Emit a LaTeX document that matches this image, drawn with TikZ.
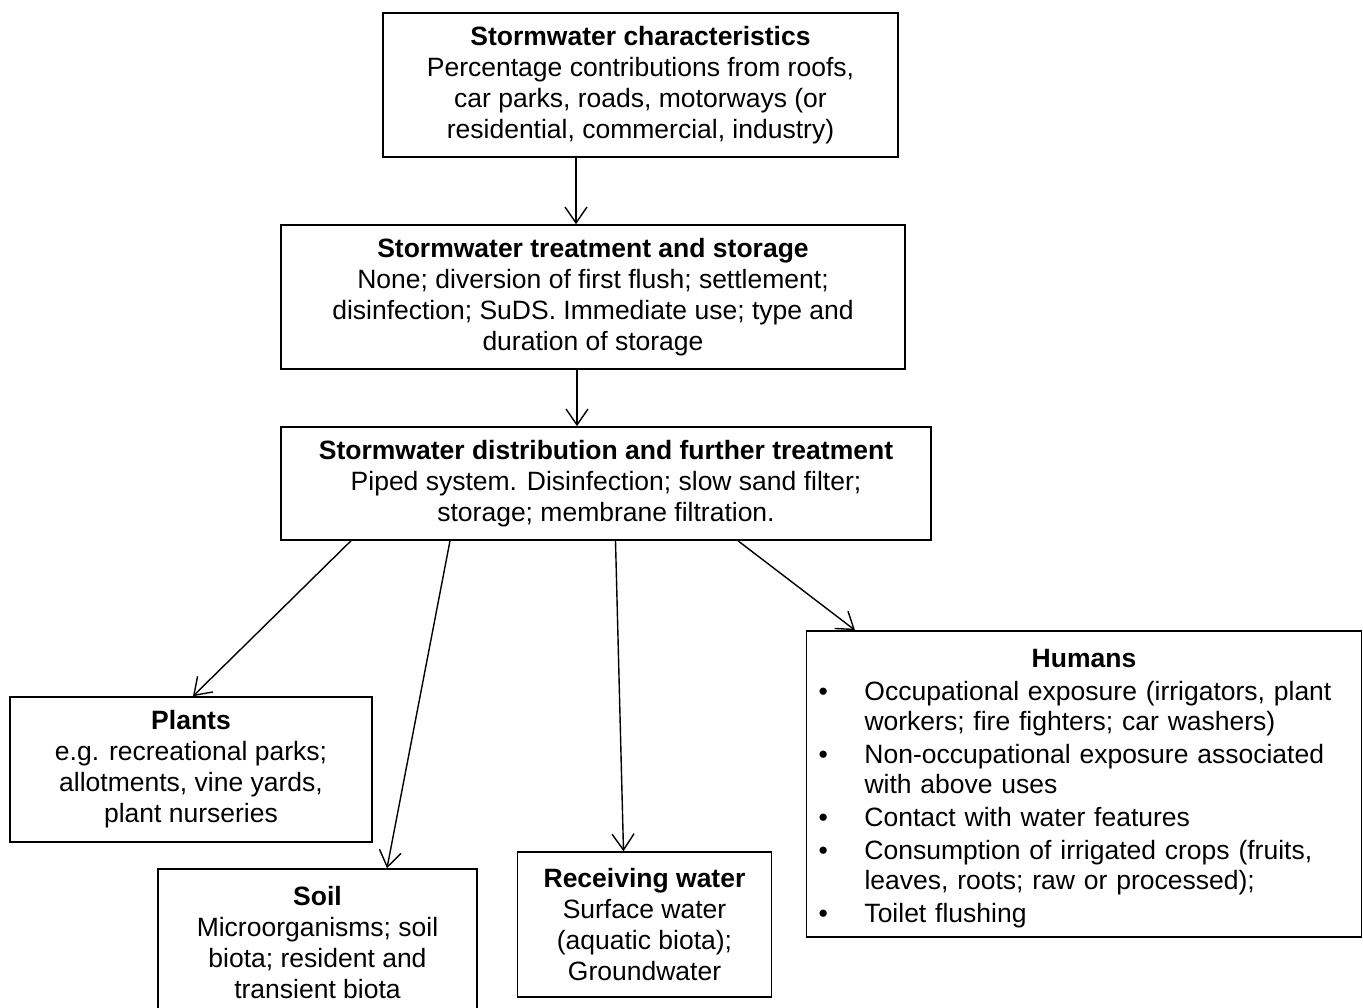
\documentclass[tikz,border=0pt]{standalone}
\usepackage{fontspec}
\setmainfont{Liberation Sans}
\usetikzlibrary{arrows.meta}
\newcommand\hitem[1]{\par\hangindent=46pt\hangafter=1\noindent\makebox[46pt][l]{\textbullet}#1}
\begin{document}
\begin{tikzpicture}[x=1pt,y=-1pt,
  boxbase/.style={draw, line width=1.6pt, inner sep=0pt, font=\fontsize{26.5}{31}\selectfont},
  box/.style={boxbase, align=center},
  listtext/.style={inner sep=0pt, text width=531pt, font=\fontsize{26.5}{30}\selectfont},
  arr/.style={line width=1.4pt, -{Straight Barb[length=16pt,width=22pt,line width=1.4pt]}}]
\useasboundingbox (0,0) rectangle (1363,1008);

\node[box, minimum width=515pt, minimum height=144pt] (b1) at (640.5,85)
  {\textbf{Stormwater characteristics}\\Percentage contributions from roofs,\\car parks, roads, motorways (or\\residential, commercial, industry)};
\node[box, minimum width=624pt, minimum height=144pt] (b2) at (593,297)
  {\textbf{Stormwater treatment and storage}\\None; diversion of first flush; settlement;\\disinfection; SuDS. Immediate use; type and\\duration of storage};
\node[box, minimum width=650pt, minimum height=113pt] (b3) at (606,483.5)
  {\textbf{Stormwater distribution and further treatment}\\Piped system. Disinfection; slow sand filter;\\storage; membrane filtration.};
\node[box, minimum width=362pt, minimum height=145pt] (plants) at (191,769.5)
  {\textbf{Plants}\\e.g. recreational parks;\\allotments, vine yards,\\plant nurseries};
\node[box, minimum width=319pt, minimum height=148pt] (soil) at (317.5,943)
  {\textbf{Soil}\\Microorganisms; soil\\biota; resident and\\transient biota};
\node[box, minimum width=254pt, minimum height=145pt] (recv) at (644.5,924.5)
  {\textbf{Receiving water}\\Surface water\\(aquatic biota);\\Groundwater};
\node[boxbase, minimum width=555pt, minimum height=306pt] (hum) at (1084,784) {};
\node[listtext] (humtxt) at ([yshift=-5pt]hum.center)
  {\parskip=3pt{\centering\textbf{Humans}\par}\raggedright
   \hitem{Occupational exposure (irrigators, plant\newline workers; fire fighters; car washers)}
   \hitem{Non-occupational exposure associated\newline with above uses}
   \hitem{Contact with water features}
   \hitem{Consumption of irrigated crops (fruits,\newline leaves, roots; raw or processed);}
   \hitem{Toilet flushing}\par};

\draw[arr] ([xshift=-64.5pt]b1.south) -- ([xshift=-64.5pt]b1.south |- b2.north);
\draw[arr] ([xshift=-16pt]b2.south) -- ([xshift=-16pt]b2.south |- b3.north);
\draw[arr] ([xshift=-255pt]b3.south) -- ([xshift=2pt]plants.north);
\draw[arr] ([xshift=-156pt]b3.south) -- ([xshift=69.5pt]soil.north);
\draw[arr] ([xshift=9.5pt]b3.south) -- ([xshift=-21pt]recv.north);
\draw[arr] ([xshift=132pt]b3.south) -- ([xshift=-229pt]hum.north);
\end{tikzpicture}
\end{document}
